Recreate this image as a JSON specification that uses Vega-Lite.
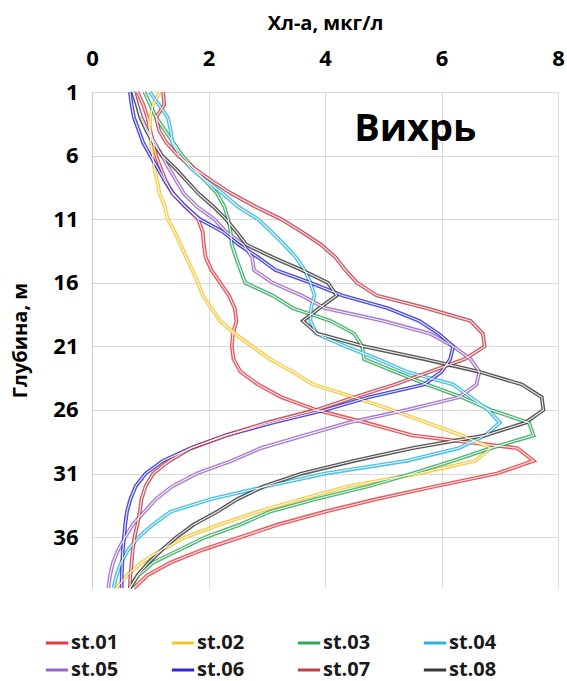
{
"$schema":"https://vega.github.io/schema/vega-lite/v6.json",
"width":466,"height":496,
"autosize":{"type":"none"},
"padding":{"left":92,"top":92,"right":9,"bottom":93},
"background":"white",
"config":{"font":"Open Sans","view":{"stroke":null}},
"data":{"values":[
{"s":"st.01","d":1,"v":0.78},{"s":"st.01","d":2,"v":0.88},{"s":"st.01","d":3,"v":0.95},{"s":"st.01","d":4,"v":1.0},{"s":"st.01","d":5,"v":1.05},{"s":"st.01","d":6,"v":1.1},{"s":"st.01","d":7,"v":1.18},{"s":"st.01","d":8,"v":1.27},{"s":"st.01","d":9,"v":1.38},{"s":"st.01","d":10,"v":1.6},{"s":"st.01","d":11,"v":1.82},{"s":"st.01","d":12,"v":1.9},{"s":"st.01","d":13,"v":1.92},{"s":"st.01","d":14,"v":1.95},{"s":"st.01","d":15,"v":2.05},{"s":"st.01","d":16,"v":2.2},{"s":"st.01","d":17,"v":2.35},{"s":"st.01","d":18,"v":2.45},{"s":"st.01","d":19,"v":2.48},{"s":"st.01","d":20,"v":2.42},{"s":"st.01","d":21,"v":2.4},{"s":"st.01","d":22,"v":2.43},{"s":"st.01","d":23,"v":2.55},{"s":"st.01","d":24,"v":2.85},{"s":"st.01","d":25,"v":3.25},{"s":"st.01","d":26,"v":3.85},{"s":"st.01","d":27,"v":4.7},{"s":"st.01","d":28,"v":5.5},{"s":"st.01","d":29,"v":7.3},{"s":"st.01","d":30,"v":7.58},{"s":"st.01","d":31,"v":6.95},{"s":"st.01","d":32,"v":5.9},{"s":"st.01","d":33,"v":4.9},{"s":"st.01","d":34,"v":4.0},{"s":"st.01","d":35,"v":3.2},{"s":"st.01","d":36,"v":2.55},{"s":"st.01","d":37,"v":1.9},{"s":"st.01","d":38,"v":1.35},{"s":"st.01","d":39,"v":0.95},{"s":"st.01","d":40,"v":0.72},
{"s":"st.02","d":1,"v":1.16},{"s":"st.02","d":2,"v":1.05},{"s":"st.02","d":3,"v":1.0},{"s":"st.02","d":4,"v":0.99},{"s":"st.02","d":5,"v":1.01},{"s":"st.02","d":6,"v":1.04},{"s":"st.02","d":7,"v":1.07},{"s":"st.02","d":8,"v":1.12},{"s":"st.02","d":9,"v":1.16},{"s":"st.02","d":10,"v":1.25},{"s":"st.02","d":11,"v":1.3},{"s":"st.02","d":12,"v":1.42},{"s":"st.02","d":13,"v":1.52},{"s":"st.02","d":14,"v":1.62},{"s":"st.02","d":15,"v":1.72},{"s":"st.02","d":16,"v":1.82},{"s":"st.02","d":17,"v":1.9},{"s":"st.02","d":18,"v":2.05},{"s":"st.02","d":19,"v":2.2},{"s":"st.02","d":20,"v":2.45},{"s":"st.02","d":21,"v":2.75},{"s":"st.02","d":22,"v":3.05},{"s":"st.02","d":23,"v":3.45},{"s":"st.02","d":24,"v":3.8},{"s":"st.02","d":25,"v":4.5},{"s":"st.02","d":26,"v":5.15},{"s":"st.02","d":27,"v":5.75},{"s":"st.02","d":28,"v":6.35},{"s":"st.02","d":29,"v":6.85},{"s":"st.02","d":30,"v":6.58},{"s":"st.02","d":31,"v":5.6},{"s":"st.02","d":32,"v":4.4},{"s":"st.02","d":33,"v":3.6},{"s":"st.02","d":34,"v":2.85},{"s":"st.02","d":35,"v":2.2},{"s":"st.02","d":36,"v":1.6},{"s":"st.02","d":37,"v":1.2},{"s":"st.02","d":38,"v":0.85},{"s":"st.02","d":39,"v":0.6},{"s":"st.02","d":40,"v":0.42},
{"s":"st.03","d":1,"v":0.9},{"s":"st.03","d":2,"v":1.0},{"s":"st.03","d":3,"v":1.1},{"s":"st.03","d":4,"v":1.25},{"s":"st.03","d":5,"v":1.4},{"s":"st.03","d":6,"v":1.55},{"s":"st.03","d":7,"v":1.75},{"s":"st.03","d":8,"v":1.95},{"s":"st.03","d":9,"v":2.15},{"s":"st.03","d":10,"v":2.27},{"s":"st.03","d":11,"v":2.34},{"s":"st.03","d":12,"v":2.38},{"s":"st.03","d":13,"v":2.4},{"s":"st.03","d":14,"v":2.47},{"s":"st.03","d":15,"v":2.55},{"s":"st.03","d":16,"v":2.63},{"s":"st.03","d":17,"v":3.1},{"s":"st.03","d":18,"v":3.45},{"s":"st.03","d":19,"v":4.1},{"s":"st.03","d":20,"v":4.5},{"s":"st.03","d":21,"v":4.64},{"s":"st.03","d":22,"v":4.67},{"s":"st.03","d":23,"v":5.2},{"s":"st.03","d":24,"v":5.75},{"s":"st.03","d":25,"v":6.35},{"s":"st.03","d":26,"v":6.85},{"s":"st.03","d":27,"v":7.5},{"s":"st.03","d":28,"v":7.58},{"s":"st.03","d":29,"v":6.85},{"s":"st.03","d":30,"v":6.2},{"s":"st.03","d":31,"v":5.5},{"s":"st.03","d":32,"v":4.75},{"s":"st.03","d":33,"v":3.85},{"s":"st.03","d":34,"v":3.05},{"s":"st.03","d":35,"v":2.55},{"s":"st.03","d":36,"v":1.95},{"s":"st.03","d":37,"v":1.5},{"s":"st.03","d":38,"v":1.05},{"s":"st.03","d":39,"v":0.8},{"s":"st.03","d":40,"v":0.65},
{"s":"st.04","d":1,"v":0.99},{"s":"st.04","d":2,"v":1.15},{"s":"st.04","d":3,"v":1.3},{"s":"st.04","d":4,"v":1.35},{"s":"st.04","d":5,"v":1.38},{"s":"st.04","d":6,"v":1.5},{"s":"st.04","d":7,"v":1.7},{"s":"st.04","d":8,"v":1.97},{"s":"st.04","d":9,"v":2.25},{"s":"st.04","d":10,"v":2.5},{"s":"st.04","d":11,"v":2.85},{"s":"st.04","d":12,"v":3.08},{"s":"st.04","d":13,"v":3.3},{"s":"st.04","d":14,"v":3.5},{"s":"st.04","d":15,"v":3.65},{"s":"st.04","d":16,"v":3.75},{"s":"st.04","d":17,"v":3.82},{"s":"st.04","d":18,"v":3.76},{"s":"st.04","d":19,"v":3.75},{"s":"st.04","d":20,"v":3.85},{"s":"st.04","d":21,"v":4.35},{"s":"st.04","d":22,"v":4.9},{"s":"st.04","d":23,"v":5.4},{"s":"st.04","d":24,"v":6.2},{"s":"st.04","d":25,"v":6.5},{"s":"st.04","d":26,"v":6.8},{"s":"st.04","d":27,"v":7.0},{"s":"st.04","d":28,"v":6.75},{"s":"st.04","d":29,"v":6.3},{"s":"st.04","d":30,"v":5.4},{"s":"st.04","d":31,"v":4.0},{"s":"st.04","d":32,"v":3.0},{"s":"st.04","d":33,"v":2.05},{"s":"st.04","d":34,"v":1.35},{"s":"st.04","d":35,"v":1.05},{"s":"st.04","d":36,"v":0.8},{"s":"st.04","d":37,"v":0.62},{"s":"st.04","d":38,"v":0.5},{"s":"st.04","d":39,"v":0.42},{"s":"st.04","d":40,"v":0.37},
{"s":"st.05","d":1,"v":0.72},{"s":"st.05","d":2,"v":0.78},{"s":"st.05","d":3,"v":0.85},{"s":"st.05","d":4,"v":0.95},{"s":"st.05","d":5,"v":1.08},{"s":"st.05","d":6,"v":1.2},{"s":"st.05","d":7,"v":1.32},{"s":"st.05","d":8,"v":1.45},{"s":"st.05","d":9,"v":1.58},{"s":"st.05","d":10,"v":1.8},{"s":"st.05","d":11,"v":2.1},{"s":"st.05","d":12,"v":2.3},{"s":"st.05","d":13,"v":2.6},{"s":"st.05","d":14,"v":2.75},{"s":"st.05","d":15,"v":2.78},{"s":"st.05","d":16,"v":3.1},{"s":"st.05","d":17,"v":3.6},{"s":"st.05","d":18,"v":4.0},{"s":"st.05","d":19,"v":5.0},{"s":"st.05","d":20,"v":5.8},{"s":"st.05","d":21,"v":6.2},{"s":"st.05","d":22,"v":6.5},{"s":"st.05","d":23,"v":6.65},{"s":"st.05","d":24,"v":6.6},{"s":"st.05","d":25,"v":6.3},{"s":"st.05","d":26,"v":5.4},{"s":"st.05","d":27,"v":4.4},{"s":"st.05","d":28,"v":3.65},{"s":"st.05","d":29,"v":2.9},{"s":"st.05","d":30,"v":2.4},{"s":"st.05","d":31,"v":1.8},{"s":"st.05","d":32,"v":1.38},{"s":"st.05","d":33,"v":1.1},{"s":"st.05","d":34,"v":0.9},{"s":"st.05","d":35,"v":0.7},{"s":"st.05","d":36,"v":0.57},{"s":"st.05","d":37,"v":0.45},{"s":"st.05","d":38,"v":0.36},{"s":"st.05","d":39,"v":0.31},{"s":"st.05","d":40,"v":0.28},
{"s":"st.06","d":1,"v":0.65},{"s":"st.06","d":2,"v":0.68},{"s":"st.06","d":3,"v":0.72},{"s":"st.06","d":4,"v":0.8},{"s":"st.06","d":5,"v":0.88},{"s":"st.06","d":6,"v":1.0},{"s":"st.06","d":7,"v":1.13},{"s":"st.06","d":8,"v":1.25},{"s":"st.06","d":9,"v":1.4},{"s":"st.06","d":10,"v":1.6},{"s":"st.06","d":11,"v":1.85},{"s":"st.06","d":12,"v":2.25},{"s":"st.06","d":13,"v":2.52},{"s":"st.06","d":14,"v":2.85},{"s":"st.06","d":15,"v":3.15},{"s":"st.06","d":16,"v":3.75},{"s":"st.06","d":17,"v":4.3},{"s":"st.06","d":18,"v":5.08},{"s":"st.06","d":19,"v":5.62},{"s":"st.06","d":20,"v":5.95},{"s":"st.06","d":21,"v":6.2},{"s":"st.06","d":22,"v":6.15},{"s":"st.06","d":23,"v":6.0},{"s":"st.06","d":24,"v":5.7},{"s":"st.06","d":25,"v":4.75},{"s":"st.06","d":26,"v":4.0},{"s":"st.06","d":27,"v":3.1},{"s":"st.06","d":28,"v":2.3},{"s":"st.06","d":29,"v":1.7},{"s":"st.06","d":30,"v":1.22},{"s":"st.06","d":31,"v":0.92},{"s":"st.06","d":32,"v":0.75},{"s":"st.06","d":33,"v":0.66},{"s":"st.06","d":34,"v":0.6},{"s":"st.06","d":35,"v":0.57},{"s":"st.06","d":36,"v":0.55},{"s":"st.06","d":37,"v":0.53},{"s":"st.06","d":38,"v":0.52},{"s":"st.06","d":39,"v":0.51},{"s":"st.06","d":40,"v":0.51},
{"s":"st.07","d":1,"v":1.22},{"s":"st.07","d":2,"v":1.24},{"s":"st.07","d":3,"v":1.1},{"s":"st.07","d":4,"v":1.15},{"s":"st.07","d":5,"v":1.28},{"s":"st.07","d":6,"v":1.48},{"s":"st.07","d":7,"v":1.75},{"s":"st.07","d":8,"v":2.06},{"s":"st.07","d":9,"v":2.4},{"s":"st.07","d":10,"v":2.8},{"s":"st.07","d":11,"v":3.25},{"s":"st.07","d":12,"v":3.6},{"s":"st.07","d":13,"v":3.93},{"s":"st.07","d":14,"v":4.18},{"s":"st.07","d":15,"v":4.35},{"s":"st.07","d":16,"v":4.55},{"s":"st.07","d":17,"v":4.89},{"s":"st.07","d":18,"v":5.74},{"s":"st.07","d":19,"v":6.5},{"s":"st.07","d":20,"v":6.71},{"s":"st.07","d":21,"v":6.74},{"s":"st.07","d":22,"v":6.4},{"s":"st.07","d":23,"v":5.8},{"s":"st.07","d":24,"v":5.2},{"s":"st.07","d":25,"v":4.5},{"s":"st.07","d":26,"v":3.85},{"s":"st.07","d":27,"v":3.0},{"s":"st.07","d":28,"v":2.3},{"s":"st.07","d":29,"v":1.7},{"s":"st.07","d":30,"v":1.33},{"s":"st.07","d":31,"v":1.05},{"s":"st.07","d":32,"v":0.92},{"s":"st.07","d":33,"v":0.85},{"s":"st.07","d":34,"v":0.82},{"s":"st.07","d":35,"v":0.78},{"s":"st.07","d":36,"v":0.73},{"s":"st.07","d":37,"v":0.7},{"s":"st.07","d":38,"v":0.68},{"s":"st.07","d":39,"v":0.66},{"s":"st.07","d":40,"v":0.65},
{"s":"st.08","d":1,"v":0.7},{"s":"st.08","d":2,"v":0.77},{"s":"st.08","d":3,"v":0.83},{"s":"st.08","d":4,"v":0.93},{"s":"st.08","d":5,"v":1.05},{"s":"st.08","d":6,"v":1.2},{"s":"st.08","d":7,"v":1.43},{"s":"st.08","d":8,"v":1.63},{"s":"st.08","d":9,"v":1.83},{"s":"st.08","d":10,"v":2.08},{"s":"st.08","d":11,"v":2.3},{"s":"st.08","d":12,"v":2.48},{"s":"st.08","d":13,"v":2.65},{"s":"st.08","d":14,"v":3.1},{"s":"st.08","d":15,"v":3.6},{"s":"st.08","d":16,"v":4.05},{"s":"st.08","d":17,"v":4.2},{"s":"st.08","d":18,"v":3.9},{"s":"st.08","d":19,"v":3.62},{"s":"st.08","d":20,"v":3.87},{"s":"st.08","d":21,"v":4.67},{"s":"st.08","d":22,"v":5.7},{"s":"st.08","d":23,"v":6.65},{"s":"st.08","d":24,"v":7.38},{"s":"st.08","d":25,"v":7.72},{"s":"st.08","d":26,"v":7.75},{"s":"st.08","d":27,"v":7.44},{"s":"st.08","d":28,"v":6.75},{"s":"st.08","d":29,"v":5.5},{"s":"st.08","d":30,"v":4.5},{"s":"st.08","d":31,"v":3.6},{"s":"st.08","d":32,"v":2.95},{"s":"st.08","d":33,"v":2.5},{"s":"st.08","d":34,"v":2.15},{"s":"st.08","d":35,"v":1.75},{"s":"st.08","d":36,"v":1.45},{"s":"st.08","d":37,"v":1.2},{"s":"st.08","d":38,"v":0.97},{"s":"st.08","d":39,"v":0.78},{"s":"st.08","d":40,"v":0.65}
]},
"layer":[
{"mark":{"type":"line","strokeWidth":3.8,"opacity":0.85},
 "encoding":{
  "x":{"field":"v","type":"quantitative","scale":{"domain":[0,8],"nice":false,"zero":true},
       "axis":{"orient":"top","title":"Хл-а, мкг/л","values":[0,2,4,6,8],"format":"d","labelFlush":false,"labelOverlap":false,"ticks":false,"tickSize":0,"labelPadding":22,"labelFontSize":22,"labelFontWeight":"bold","labelColor":"#000","titleFontSize":20,"titleFontWeight":"bold","titleColor":"#000","titlePadding":14,"grid":true,"gridColor":"#d9d9d9","domain":false}},
  "y":{"field":"d","type":"quantitative","scale":{"domain":[1,40],"reverse":true,"nice":false,"zero":false},
       "axis":{"title":"Глубина, м","values":[1,6,11,16,21,26,31,36],"labelFlush":false,"labelOverlap":false,"ticks":false,"tickSize":0,"labelPadding":14,"labelFontSize":22,"labelFontWeight":"bold","labelColor":"#000","titleFontSize":20,"titleFontWeight":"bold","titleColor":"#000","titlePadding":22,"grid":true,"gridColor":"#d9d9d9","domainColor":"#c8c8c8"}},
  "color":{"field":"s","type":"nominal",
       "scale":{"domain":["st.01","st.02","st.03","st.04","st.05","st.06","st.07","st.08"],"range":["#e8383d","#f5c42c","#2fa85a","#2cb4e0","#9a68c4","#2b2bd6","#bf3f4c","#3a3a3a"]},
       "legend":{"orient":"none","direction":"horizontal","legendX":-48,"legendY":538,"columns":4,"title":null,"symbolType":"stroke","symbolSize":500,"symbolStrokeWidth":3,"symbolOpacity":1,"labelFontSize":20,"labelFontWeight":"bold","labelColor":"#1a1a1a","labelOffset":1,"columnPadding":46,"rowPadding":4}},
  "order":{"field":"d","type":"quantitative"}
 }},
{"mark":{"type":"line","strokeWidth":1.1,"color":"white","opacity":0.9},
 "encoding":{
  "x":{"field":"v","type":"quantitative"},
  "y":{"field":"d","type":"quantitative"},
  "detail":{"field":"s","type":"nominal"},
  "order":{"field":"d","type":"quantitative"}
 }},
{"data":{"values":[{"label":"Вихрь","v":4.5,"d":4.85}]},
 "mark":{"type":"text","align":"left","baseline":"alphabetic","fontSize":38,"fontWeight":"bold","color":"#000"},
 "encoding":{
  "x":{"field":"v","type":"quantitative"},
  "y":{"field":"d","type":"quantitative"},
  "text":{"field":"label"}
 }}
]
}
